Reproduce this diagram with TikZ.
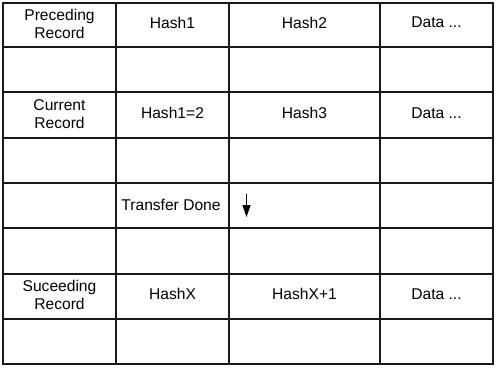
\documentclass[tikz,border=0pt]{standalone}
\usepackage{fontspec}
\setmainfont{Liberation Sans}
\usetikzlibrary{arrows.meta}
\tikzset{
  celltext/.style={font=\fontsize{15.6}{18}\selectfont, text=black, align=center, inner sep=0pt},
  gridline/.style={line width=1.1pt, draw=black!90},
  dropflow/.style={-{Triangle[length=12pt,width=8pt]}, line width=1.2pt, draw=black}
}

\begin{document}
\begin{tikzpicture}[x=1pt,y=-1pt,every node/.style={celltext}]
\useasboundingbox (0,0) rectangle (497,369);
% table frame and cell borders
\draw[gridline] (3,3) rectangle (493,364);
\foreach \x in {116,229,380} \draw[gridline] (\x,3) -- (\x,364);
\foreach \y in {47,92,138,183,228,274,319} \draw[gridline] (3,\y) -- (493,\y);
% preceding record
\node (precrec) at (59.5,24) {Preceding\\Record};
\node (prech1) at (172.5,22.5) {Hash1};
\node (prech2) at (304.5,22.5) {Hash2};
\node (precdata) at (436.5,22.5) {Data ...};
% current record
\node (currec) at (59.5,114) {Current\\Record};
\node (curh1) at (172.5,113) {Hash1=2};
\node (curh3) at (304.5,113) {Hash3};
\node (curdata) at (436.5,113) {Data ...};
% transfer step
\node (xferdone) at (171,205) {Transfer Done};
\coordinate (dropfrom) at (246.5,194);
\coordinate (dropto) at (246.5,217);
\draw[dropflow] (dropfrom) -- (dropto);
% succeeding record
\node (sucrec) at (59.5,295) {Suceeding\\Record};
\node (suchx) at (172.5,294) {HashX};
\node (suchx1) at (304.5,294) {HashX+1};
\node (sucdata) at (436.5,294) {Data ...};
\end{tikzpicture}
\end{document}
